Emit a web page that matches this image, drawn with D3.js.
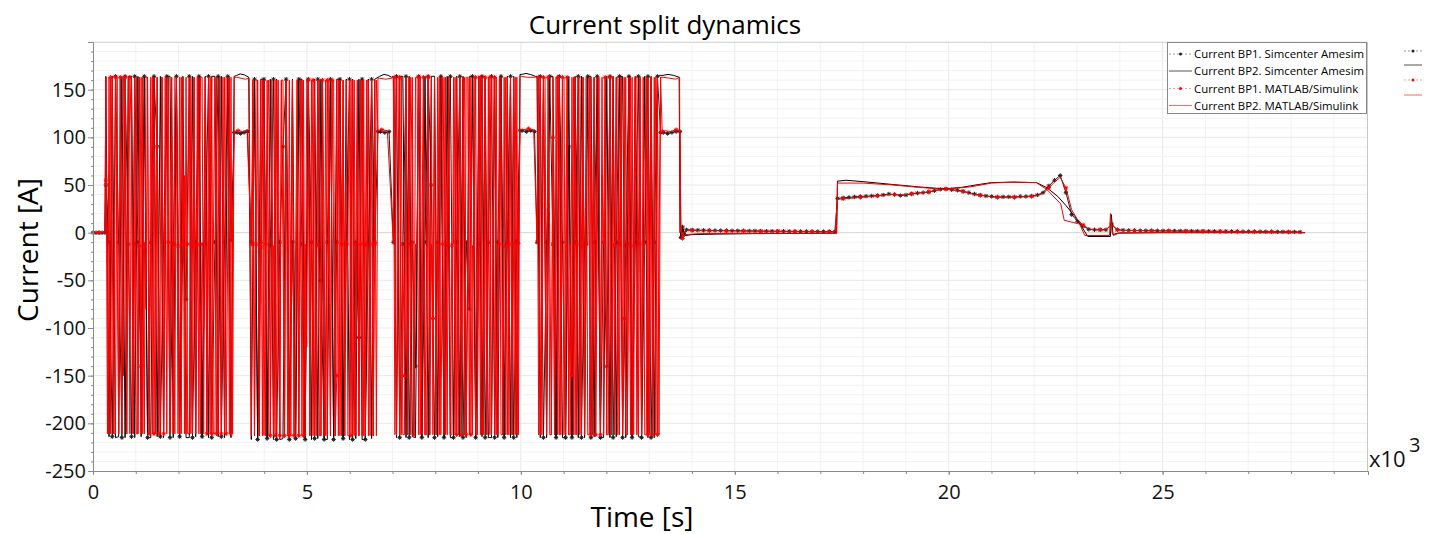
<!DOCTYPE html>
<html><head><meta charset="utf-8">
<script src="https://cdn.jsdelivr.net/npm/d3@7"></script>
<style>body{margin:0;background:#fff;} svg{display:block;font-family:"Open Sans",sans-serif;}</style>
</head><body><svg id="c" width="1437" height="534"></svg>
<script>
// ---------- tick labels / names ----------
const xTicks = [0, 5, 10, 15, 20, 25];
const yTicks = [-250, -200, -150, -100, -50, 0, 50, 100, 150];
const seriesNames = ["Current BP1. Simcenter Amesim", "Current BP2. Simcenter Amesim",
                     "Current BP1. MATLAB/Simulink", "Current BP2. MATLAB/Simulink"];

// ---------- burst sampling (time in 10^3 s) ----------
const burstStart = [0.30, 3.70, 7.02, 10.38];
const stepAmesim = [0.075, 0.074, 0.074, 0.074];
const stepMatlab = [0.0375, 0.037, 0.037, 0.037];

// Amesim BP1 during bursts
const a1_b1 = [50,-10,-214,164,-10,-215,164,-12,-214,164,-10,-140,164,-215,-10,164,90,-214,-10,164,-215,-12,164,-214,-10,-70,164,-215,-10,164,-214,-12,164,-215,-10,164,-214,-10,164,-8,105];
const a1_b2 = [-10,161,-217,-10,161,-216,-13,161,-217,-10,90,161,-217,-10,-216,161,-12,-217,161,-10,-216,161,-50,-217,-10,161,-217,-10,161,-216,-12,161,-217,-10,-110,161,-217,-10,161,-10,106];
const a1_b3 = [-10,164,-215,-12,164,-215,-10,-140,164,-215,-10,164,50,-215,-10,164,-215,-13,164,-215,-10,164,-215,-10,-80,164,-215,-12,164,-215,-10,164,-215,-10,164,-215,-11,164,-215,-9,107];
const a1_b4 = [-10,164,-215,-10,164,-12,-215,164,-10,-215,90,-215,-10,164,-215,-12,164,-215,-10,164,-215,-10,-140,164,-215,-10,164,-215,-13,164,-215,-10,164,-215,-10,164,-215,-10,164,105];
// Amesim BP2 during bursts
const a2_b1 = [164,-214,164,-215,-214,164,-215,164,164,-215,164,-214,164,-215,-215,164,-214,164,-215,164,164,-215,164,-214,164,-215,-215,164,-214,164,-215,164,-215,164,164,-214,164,-215,164,-215,164];
const a2_b2 = [-217,161,-217,161,161,-216,161,-217,161,-217,-216,161,-217,161,-216,161,161,-217,161,-217,161,-216,161,-217,-217,161,-216,161,161,-217,161,-217,161,-216,161,-217,-217,161,-216,161,163];
const a2_b3 = [164,-215,164,164,-215,164,-214,-215,164,-215,164,-215,164,164,-214,164,-215,164,-215,-215,164,-214,164,-215,164,164,-215,164,-214,164,-215,-215,164,-215,164,-214,164,-215,164,-215,166];
const a2_b4 = [164,-215,164,-215,164,164,-214,164,-215,-215,164,-214,164,-215,164,-215,164,164,-214,164,-215,-215,164,-215,164,-214,164,164,-215,164,-215,164,-214,-215,164,-215,164,-215,164,165];
// MATLAB BP1 during bursts
const m1_b1 = [55,-12,-211,163,-12,-211,163,-14,-211,163, -12,-150,163,-211,-12,163,100,-211,-12,163, -211,-14,163,-211,-12,-80,163,-211,-12,163, -211,-15,163,-211,-12,163,-211,-12,163,-10, -211,163,-12,-211,163,-14,-211,163,-12,60, -211,-12,163,-211,-14,163,-211,-12,163,-211, -12,-100,163,-211,-12,163,-211,-13,163,-211, -12,163,-211,-14,163,-211,-12,163,-211,-10, 106];
const m1_b2 = [-12,160,-213,-12,160,-213,-15,160,-213,-12, 100,160,-213,-12,-14,-213,160,-14,-213,160, -12,-213,160,-60,-213,-12,160,-213,-12,160, -213,-14,160,-213,-12,-120,160,-213,-12,160, -213,-12,-13,160,-213,160,-12,-213,160,-14, -213,160,-12,-213,-150,160,-213,-12,160,-213, -12,-14,160,-213,160,-213,-12,160,-213,-12, 160,-213,-13,160,-213,-12,160,-213,-12,160, 107];
const m1_b3 = [-12,163,-212,-14,163,-212,-12,-150,163,-212, -12,163,60,-212,-12,-13,163,-212,-15,163, -212,-12,163,-212,-12,-90,163,-212,-14,163, -212,-12,163,-212,-12,163,-212,-13,-11,163, -212,-12,163,-212,100,163,-212,-12,163,-212, -14,-12,163,-212,-12,163,-212,-180,163,-212, -12,163,-212,-13,163,-212,-12,-12,163,-212, -14,163,-212,-12,163,-212,-12,163,-212,-11, 108];
const m1_b4 = [-12,163,-212,-12,163,-14,-212,163,-12,-212, 100,-212,-12,163,-212,-14,163,-212,-12,163, -212,-12,-150,163,-212,-12,163,-212,-15,163, -212,-12,-13,163,-212,-12,163,-212,-12,163, -212,60,-12,163,-212,-14,163,-212,-12,-13, 163,-212,-12,163,-212,-90,163,-212,-12,163, -212,-14,163,-212,-12,163,-212,-12,-11,163, -212,-12,163,-212,-13,163,-212,-12,163,106];
// MATLAB BP2 during bursts
const m2_b1 = [163,-211,163,-211,163,-211,-211,163,-211,163, -211,163,163,-211,163,-211,163,-211,163,-211, -211,163,-211,163,-211,163,163,-211,163,-211, 163,-211,163,-211,-211,163,-211,163,-211,163, -211,163,-211,163,163,-211,163,-211,163,-211, 163,-211,-211,163,-211,163,-211,163,-211,163, 163,-211,163,-211,163,-211,163,-211,-211,163, -211,163,-211,163,-211,163,163,-211,163,-211, 163];
const m2_b2 = [-213,160,-213,160,160,-213,160,-213,160,-213, 160,-213,-213,160,-213,160,-213,160,-213,160, 160,-213,160,-213,160,-213,160,-213,-213,160, -213,160,-213,160,-213,160,160,-213,160,-213, 160,-213,160,-213,-213,160,-213,160,-213,160, -213,160,160,-213,160,-213,160,-213,160,-213, 160,-213,-213,160,-213,160,-213,160,-213,160, -213,160,-213,160,160,-213,160,-213,160,-213, 162];
const m2_b3 = [163,-212,163,163,-212,163,-212,-212,163,-212, 163,-212,163,-212,163,163,-212,163,-212,163, -212,-212,163,-212,163,-212,163,-212,163,-212, 163,163,-212,163,-212,163,-212,-212,163,-212, 163,-212,163,-212,163,-212,163,163,-212,163, -212,163,-212,-212,163,-212,163,-212,163,-212, 163,-212,163,163,-212,163,-212,163,-212,-212, 163,-212,163,-212,163,-212,163,-212,163,-212, 164];
const m2_b4 = [163,-212,163,-212,163,163,-212,163,-212,-212, 163,-212,163,-212,163,-212,163,163,-212,163, -212,-212,163,-212,163,-212,163,163,-212,163, -212,163,-212,-212,163,-212,163,-212,163,163, -212,163,-212,163,-212,-212,163,-212,163,-212, 163,163,-212,163,-212,163,-212,-212,163,-212, 163,-212,163,163,-212,163,-212,163,-212,-212, 163,-212,163,-212,163,-212,163,-212,163,163];

// ---------- explicit [t, value] pieces: idle start and rest gaps ----------
const bp1Start = [[0,0],[0.07,0],[0.14,0],[0.21,0],[0.28,0]];
const bp2Start = [[0,0],[0.28,0]];
const a1_gaps = [[[3.37,105],[3.45,104],[3.53,105],[3.61,106]], [[6.72,106],[6.82,105],[6.92,106]], [[10.03,107],[10.13,106],[10.23,107],[10.32,106]], [[13.33,105],[13.43,104],[13.53,105],[13.63,106],[13.72,106],[13.74,-5],[13.78,6],[13.82,-2]]];
const a2_gaps = [[[3.36,165],[3.44,166.5],[3.54,165.5],[3.64,163]], [[6.70,164],[6.80,166],[6.90,165],[6.98,163]], [[10.02,166],[10.12,167],[10.22,166],[10.34,164]], [[13.32,165],[13.44,166],[13.57,165],[13.70,163]]];
const m1_gaps = [[[3.39,107],[3.50,106],[3.60,108]], [[6.75,108],[6.88,107]], [[10.06,108],[10.18,109],[10.30,108]], [[13.37,107],[13.50,106],[13.63,108],[13.72,107],[13.74,6],[13.78,-6],[13.82,1]]];
const m2_gaps = [[[3.36,163],[3.46,162],[3.56,161],[3.65,162]], [[6.70,162],[6.84,161],[6.98,162]], [[10.02,164],[10.15,163],[10.34,163]], [[13.32,163],[13.48,162],[13.62,161],[13.71,163]]];

// ---------- after the bursts ----------
const tailStartA = 13.87, tailStartB = 17.40, tailStep = 0.1335;
const a1_tailA = [3,2.8,2.6,2.5,2.4,2.3,2.2,2.1,2,2,1.9,1.8,1.8,1.7,1.6,1.6,1.5,1.5,1.4,1.4,1.3,1.3,1.2,1.2,1.1,1.1,1];
const a1_tailB = [36,36.5,37,37.5,38,38.2,38.5,39,39.5,40.5, 40,39,39.5,40.5,41.5,42,42.5,44,45.5,46, 45,44.5,43.5,42,40.5,39.5,38.5,38,37.5,37.5, 37.5,37.5,38,38,38.5,39.5,42,49,55,60, 42,19,12,7,3.5,3,3,3,9,3, 2.5,2.4,2.3,2.2,2.1,2,2,1.9,1.9,1.8, 1.8,1.7,1.7,1.6,1.6,1.5,1.5,1.4,1.4,1.3, 1.3,1.2,1.2,1.1,1.1,1,1,0.9,0.9,0.8,0.8,0.7];
const m1_tailA = [2.5,2.4,2.3,2.2,2.1,2,2,1.9,1.8,1.8,1.7,1.6,1.6,1.5,1.5,1.4,1.4,1.3,1.3,1.2,1.2,1.1,1.1,1,1,1,0.9];
const m1_tailB = [35,35.5,36,36.5,37,37.5,38,38.5,39,40, 40,39.5,40,41,41.5,42,43,44,45,45.5, 45,44,43,41.5,40,39,38.5,37.5,37,37, 37,37,37.5,37.5,38,39,41,47,53,58, 47,24,14,8,4,3,3,3,8,3, 2.5,2.3,2.2,2.1,2,1.9,1.9,1.8,1.8,1.7, 1.7,1.6,1.6,1.5,1.5,1.4,1.4,1.3,1.3,1.2, 1.2,1.1,1.1,1,1,0.9,0.9,0.8,0.8,0.7,0.7,0.6];
const a2_tail = [[13.72,2],[13.75,-5],[13.79,4],[13.85,-3],[14.0,-2],[14.6,-1.5],[15.5,-1],[16.5,-0.8],[17.38,-0.5],[17.40,54],[17.6,55],[18.0,53.5],[18.7,50.5],[19.3,48],[19.9,46],[20.3,47.5],[20.7,50.5],[21.0,52.5],[21.5,53],[22.05,52.5],[22.3,47],[22.55,38],[22.75,28],[22.95,17],[23.1,7],[23.25,-4],[23.78,-4],[23.80,19],[23.84,-2],[23.95,-0.5],[25,0],[28.33,0]];
const m2_tail = [[13.72,0],[13.74,6],[13.78,-6],[13.84,-2],[14.2,-1],[15.5,-0.7],[17.38,-0.5],[17.40,52],[18.0,52],[18.7,50],[19.3,47.5],[19.9,45.5],[20.5,48],[21.0,52],[21.5,53],[22.05,52.5],[22.3,45],[22.62,30],[22.70,13],[23.06,9],[23.18,-3],[23.76,-3],[23.78,20],[23.82,0],[23.85,-3],[24.0,0],[28.33,0]];

// ---------- assemble series ----------
const samp = (start, step, vals) => vals.map((v, i) => [start + i * step, v]);
function assemble(start, bursts, steps, gaps, tail) {
  let out = start.slice();
  bursts.forEach((b, k) => { out = out.concat(samp(burstStart[k], steps[k], b), gaps[k]); });
  return out.concat(tail);
}
const amesimBP1 = assemble(bp1Start, [a1_b1,a1_b2,a1_b3,a1_b4], stepAmesim, a1_gaps, samp(tailStartA, tailStep, a1_tailA).concat(samp(tailStartB, tailStep, a1_tailB)));
const amesimBP2 = assemble(bp2Start, [a2_b1,a2_b2,a2_b3,a2_b4], stepAmesim, a2_gaps, a2_tail);
const matlabBP1 = assemble(bp1Start, [m1_b1,m1_b2,m1_b3,m1_b4], stepMatlab, m1_gaps, samp(tailStartA, tailStep, m1_tailA).concat(samp(tailStartB, tailStep, m1_tailB)));
const matlabBP2 = assemble(bp2Start, [m2_b1,m2_b2,m2_b3,m2_b4], stepMatlab, m2_gaps, m2_tail);

// ---------- drawing ----------
const svg = d3.select("#c");
const L = 93, R = 1368, T = 42, B = 471;
const x = d3.scaleLinear().domain([0, 29.8]).range([L, R]);
const y = d3.scaleLinear().domain([-250, 200]).range([B, T]);

const g = svg.append("g");
g.selectAll("line.gx").data(d3.range(1, 30)).join("line")
  .attr("x1", d => x(d)).attr("x2", d => x(d)).attr("y1", T).attr("y2", B)
  .attr("stroke", d => d % 5 === 0 ? "#e8e8e8" : "#f2f2f2").attr("stroke-width", 1);
g.selectAll("line.gy").data(d3.range(-240, 201, 10)).join("line")
  .attr("y1", d => y(d)).attr("y2", d => y(d)).attr("x1", L).attr("x2", R)
  .attr("stroke", d => d === 0 ? "#d4d4d4" : (d % 50 === 0 ? "#e8e8e8" : "#f2f2f2")).attr("stroke-width", 1);
svg.append("line").attr("x1", L).attr("x2", R).attr("y1", T + 0.5).attr("y2", T + 0.5).attr("stroke", "#d8d8d8");
svg.append("line").attr("x1", R - 0.5).attr("x2", R - 0.5).attr("y1", T).attr("y2", B).attr("stroke", "#c8c8c8");

const line = d3.line().x(d => x(d[0])).y(d => y(d[1]));
const star = r => `M${-r},0H${r}M0,${-r}V${r}M${-r*0.7},${-r*0.7}L${r*0.7},${r*0.7}M${-r*0.7},${r*0.7}L${r*0.7},${-r*0.7}`;
const plot = svg.append("g");
plot.append("path").datum(amesimBP1).attr("d", line).attr("fill", "none").attr("stroke", "#222").attr("stroke-width", 1);
plot.append("path").datum(amesimBP2).attr("d", line).attr("fill", "none").attr("stroke", "#000").attr("stroke-width", 1);
plot.append("g").selectAll("path").data(amesimBP1).join("path")
  .attr("transform", d => `translate(${x(d[0])},${y(d[1])})`).attr("d", star(2.2))
  .attr("stroke", "#222").attr("stroke-width", 1).attr("fill", "none");
plot.append("path").datum(matlabBP1).attr("d", line).attr("fill", "none").attr("stroke", "#ff0000").attr("stroke-width", 1);
plot.append("path").datum(matlabBP2).attr("d", line).attr("fill", "none").attr("stroke", "#ff0000").attr("stroke-width", 1);
plot.append("g").selectAll("path").data(matlabBP1.filter((d, i) => i % 3 === 2)).join("path")
  .attr("transform", d => `translate(${x(d[0])},${y(d[1])})`).attr("d", star(2.2))
  .attr("stroke", "#ff0000").attr("stroke-width", 1).attr("fill", "none");

// axes
const fmt = d => String(d);
const ax = svg.append("g").attr("transform", `translate(0,${B})`)
  .call(d3.axisBottom(x).tickValues(d3.range(0, 30)).tickSize(3).tickFormat(""));
const ax2 = svg.append("g").attr("transform", `translate(0,${B})`)
  .call(d3.axisBottom(x).tickValues(xTicks).tickSize(4).tickFormat(fmt));
const ay = svg.append("g").attr("transform", `translate(${L},0)`)
  .call(d3.axisLeft(y).tickValues(d3.range(-250, 200, 10)).tickSize(2).tickFormat(""));
const ay2 = svg.append("g").attr("transform", `translate(${L},0)`)
  .call(d3.axisLeft(y).tickValues(yTicks).tickSize(5).tickFormat(fmt));
[ax, ax2, ay, ay2].forEach(a => {
  a.select(".domain").attr("stroke", "#8a8a8a");
  a.selectAll(".tick line").attr("stroke", "#8a8a8a");
});
ax2.selectAll("text").attr("font-size", 20).attr("font-family", "Open Sans").attr("fill", "#111").attr("dy", "1.05em");
ay2.selectAll("text").attr("font-size", 20).attr("font-family", "Open Sans").attr("fill", "#111").attr("x", -7);

svg.append("text").attr("x", 665).attr("y", 34).attr("text-anchor", "middle").attr("font-size", 26).attr("fill", "#000").text("Current split dynamics");
svg.append("text").attr("x", 642).attr("y", 527).attr("text-anchor", "middle").attr("font-size", 28).attr("fill", "#000").text("Time [s]");
svg.append("text").attr("transform", "translate(38,250) rotate(-90)").attr("text-anchor", "middle").attr("font-size", 28).attr("fill", "#000").text("Current [A]");
svg.append("text").attr("x", 1369).attr("y", 467).attr("font-size", 22).attr("fill", "#111").text("x10");
svg.append("text").attr("x", 1409).attr("y", 452).attr("font-size", 20).attr("fill", "#111").text("3");

// legend
const leg = svg.append("g");
leg.append("rect").attr("x", 1167.5).attr("y", 42.5).attr("width", 199).attr("height", 71).attr("fill", "#fff").attr("stroke", "#888");
const legRows = [54, 71, 88.5, 105.5];
const legStyle = [
  {c: "#999", dash: "2,2", mk: "#222"},
  {c: "#555", dash: null, mk: null},
  {c: "#f99", dash: "2,2", mk: "#f00"},
  {c: "#f66", dash: null, mk: null}];
const sideRows = [51, 65, 80, 95];
seriesNames.forEach((name, i) => {
  const s = legStyle[i];
  [[1169, 1192, legRows[i]], [1404, 1422, sideRows[i]]].forEach(([a, b, yy]) => {
    leg.append("line").attr("x1", a).attr("x2", b).attr("y1", yy).attr("y2", yy)
      .attr("stroke", s.c).attr("stroke-width", 1).attr("stroke-dasharray", s.dash);
    if (s.mk) leg.append("circle").attr("cx", (a + b) / 2).attr("cy", yy).attr("r", 1.5).attr("fill", s.mk);
  });
  leg.append("text").attr("x", 1194).attr("y", legRows[i] + 4).attr("font-size", 11.4).attr("fill", "#000").text(name);
});
</script></body></html>
